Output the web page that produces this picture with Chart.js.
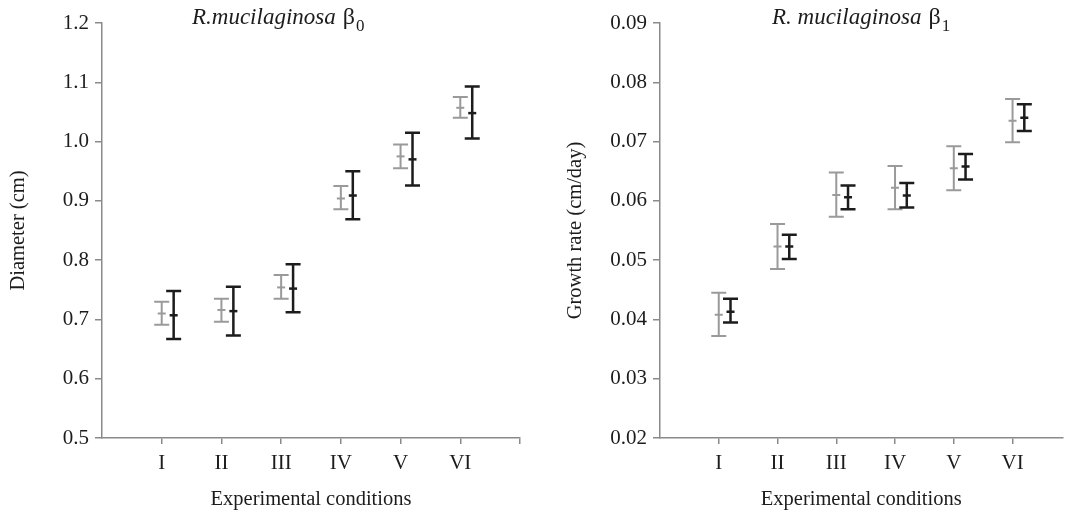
<!DOCTYPE html>
<html>
<head>
<meta charset="utf-8">
<script src="https://cdn.jsdelivr.net/npm/chart.js@4.4.0/dist/chart.umd.min.js"></script>
<style>
  html, body { margin: 0; padding: 0; background: #fff; }
  .box { position: absolute; top: 0; height: 512px; }
  #leftBox { left: 0; width: 540px; }
  #rightBox { left: 540px; width: 529px; }
</style>
</head>
<body>
<div class="box" id="leftBox"><canvas id="leftChart"></canvas></div>
<div class="box" id="rightBox"><canvas id="rightChart"></canvas></div>
<script>
// chart values
const categories = ['I', 'II', 'III', 'IV', 'V', 'VI'];

// diameter (cm), beta 0
const diamGrayMean = [0.710, 0.716, 0.754, 0.904, 0.975, 1.057];
const diamGrayLow = [0.691, 0.696, 0.735, 0.886, 0.955, 1.040];
const diamGrayHigh = [0.730, 0.735, 0.775, 0.925, 0.995, 1.075];
const diamBlackMean = [0.707, 0.714, 0.752, 0.909, 0.970, 1.048];
const diamBlackLow = [0.667, 0.673, 0.712, 0.869, 0.926, 1.005];
const diamBlackHigh = [0.748, 0.755, 0.793, 0.950, 1.015, 1.093];

// growth rate (cm/day), beta 1
const rateGrayMean = [0.0408, 0.0523, 0.0610, 0.0622, 0.0655, 0.0735];
const rateGrayLow = [0.0372, 0.0485, 0.0573, 0.0586, 0.0618, 0.0699];
const rateGrayHigh = [0.0445, 0.0561, 0.0648, 0.0659, 0.0692, 0.0772];
const rateBlackMean = [0.0413, 0.0523, 0.0606, 0.0609, 0.0658, 0.0740];
const rateBlackLow = [0.0395, 0.0502, 0.0586, 0.0589, 0.0636, 0.0718];
const rateBlackHigh = [0.0435, 0.0543, 0.0626, 0.0630, 0.0679, 0.0763];

const GRAY = '#9a9a9a';
const BLACK = '#1c1c1c';
const AXIS = '#8a8a8a';
const SERIF = "'Liberation Serif', 'DejaVu Serif', serif";

function points(means, shift) {
    return means.map((m, i) => ({ x: i + 1 + shift, y: m }));
}

// draws the vertical bars and caps for each dataset
const errorBars = {
    id: 'errorBars',
    afterDatasetsDraw(chart) {
        const ctx = chart.ctx;
        const xs = chart.scales.x, ys = chart.scales.y;
        chart.data.datasets.forEach(ds => {
            ctx.save();
            ctx.strokeStyle = ds.borderColor;
            ctx.lineWidth = ds.barWidth;
            ds.data.forEach((p, i) => {
                const x = xs.getPixelForValue(p.x);
                const top = ys.getPixelForValue(ds.high[i]);
                const bot = ys.getPixelForValue(ds.low[i]);
                const w = 7.5;
                ctx.beginPath();
                ctx.moveTo(x, top); ctx.lineTo(x, bot);
                ctx.moveTo(x - w, top); ctx.lineTo(x + w, top);
                ctx.moveTo(x - w, bot); ctx.lineTo(x + w, bot);
                ctx.stroke();
            });
            ctx.restore();
        });
    }
};

// italic species name with beta and subscript
const titleText = {
    id: 'titleText',
    afterDraw(chart, args, opts) {
        const ctx = chart.ctx;
        ctx.save();
        ctx.fillStyle = '#1c1c1c';
        ctx.textBaseline = 'alphabetic';
        let x = opts.x;
        const y = opts.y;
        ctx.font = 'italic 23px ' + SERIF;
        ctx.fillText(opts.name, x, y);
        x += ctx.measureText(opts.name).width + 7;
        ctx.font = '24px ' + SERIF;
        ctx.fillText('β', x, y);
        x += ctx.measureText('β').width + 1;
        ctx.font = '17px ' + SERIF;
        ctx.fillText(opts.sub, x, y + 7);
        ctx.restore();
    }
};

function makeChart(id, cfg) {
    return new Chart(document.getElementById(id), {
        type: 'scatter',
        data: {
            datasets: [{
                data: points(cfg.grayMean, 0),
                low: cfg.grayLow,
                high: cfg.grayHigh,
                borderColor: GRAY,
                backgroundColor: GRAY,
                barWidth: 2,
                pointStyle: 'line',
                pointRadius: 4,
                borderWidth: 2
            }, {
                data: points(cfg.blackMean, 0.2),
                low: cfg.blackLow,
                high: cfg.blackHigh,
                borderColor: BLACK,
                backgroundColor: BLACK,
                barWidth: 2.5,
                pointStyle: 'line',
                pointRadius: 4,
                borderWidth: 2.5
            }]
        },
        options: {
            responsive: true,
            maintainAspectRatio: false,
            animation: false,
            layout: { padding: { top: 23, right: cfg.padRight, left: 0, bottom: 0 } },
            plugins: {
                legend: { display: false },
                tooltip: { enabled: false },
                titleText: { name: cfg.name, sub: cfg.sub, x: cfg.titleX, y: 24 }
            },
            scales: {
                x: {
                    type: 'linear',
                    min: 0,
                    max: cfg.xMax,
                    afterBuildTicks: s => { s.ticks = cfg.xTicks.map(v => ({ value: v })); },
                    afterFit: s => { s.height = 74; },
                    grid: { drawOnChartArea: false, drawTicks: true, tickLength: 6, color: AXIS, lineWidth: 1.5 },
                    border: { color: AXIS, width: 1.5 },
                    ticks: {
                        color: '#1c1c1c',
                        padding: 7,
                        font: { family: SERIF, size: 21 },
                        callback: v => categories[v - 1] || ''
                    },
                    title: {
                        display: true,
                        text: 'Experimental conditions',
                        color: '#1c1c1c',
                        font: { family: SERIF, size: 20.5 },
                        padding: { top: 4, bottom: 0 }
                    }
                },
                y: {
                    min: cfg.yMin,
                    max: cfg.yMax,
                    afterFit: s => { s.width = cfg.yWidth; },
                    grid: { drawOnChartArea: false, drawTicks: true, tickLength: 7, color: AXIS, lineWidth: 1.5 },
                    border: { color: AXIS, width: 1.5 },
                    ticks: {
                        stepSize: cfg.yStep,
                        color: '#1c1c1c',
                        padding: 6,
                        font: { family: SERIF, size: 21 },
                        callback: v => v.toFixed(cfg.digits)
                    },
                    title: {
                        display: true,
                        text: cfg.yTitle,
                        color: '#1c1c1c',
                        font: { family: SERIF, size: 20.5 },
                        padding: { top: cfg.yTitlePad, bottom: 0 }
                    }
                }
            }
        },
        plugins: [errorBars, titleText]
    });
}

makeChart('leftChart', {
    grayMean: diamGrayMean, grayLow: diamGrayLow, grayHigh: diamGrayHigh,
    blackMean: diamBlackMean, blackLow: diamBlackLow, blackHigh: diamBlackHigh,
    yMin: 0.5, yMax: 1.2, yStep: 0.1, digits: 1,
    yTitle: 'Diameter (cm)', yWidth: 102, yTitlePad: 6,
    xMax: 7, xTicks: [1, 2, 3, 4, 5, 6, 7], padRight: 20,
    name: 'R.mucilaginosa', sub: '0', titleX: 192
});

makeChart('rightChart', {
    grayMean: rateGrayMean, grayLow: rateGrayLow, grayHigh: rateGrayHigh,
    blackMean: rateBlackMean, blackLow: rateBlackLow, blackHigh: rateBlackHigh,
    yMin: 0.02, yMax: 0.09, yStep: 0.01, digits: 2,
    yTitle: 'Growth rate (cm/day)', yWidth: 120, yTitlePad: 23,
    xMax: 6.85, xTicks: [1, 2, 3, 4, 5, 6], padRight: 0,
    name: 'R. mucilaginosa', sub: '1', titleX: 232
});
</script>
</body>
</html>
